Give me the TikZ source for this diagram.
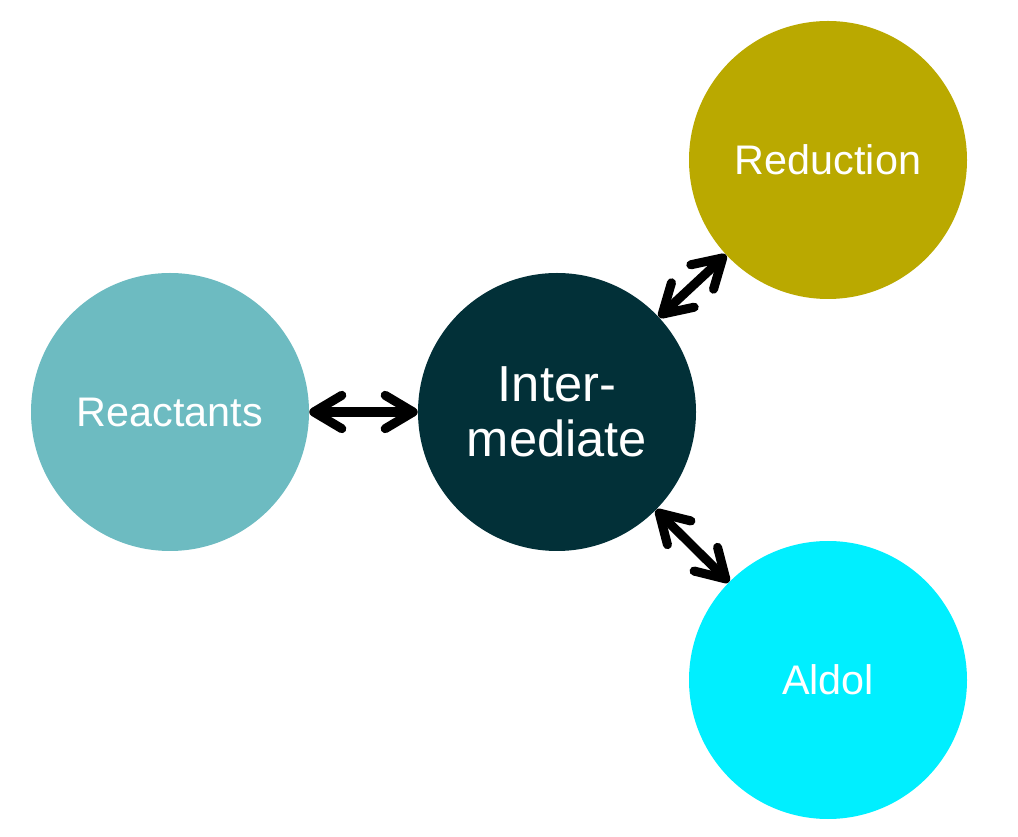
\documentclass[tikz,border=0pt]{standalone}
\usepackage{fontspec}
\setmainfont{Liberation Sans}
\usetikzlibrary{arrows.meta}
\definecolor{creact}{HTML}{6DBBC1}
\definecolor{cinter}{HTML}{023038}
\definecolor{cred}{HTML}{BAA900}
\definecolor{cald}{HTML}{00EFFF}
\begin{document}
\begin{tikzpicture}[x=0.75pt,y=-0.75pt,
  blob/.style={circle,inner sep=0pt,minimum size=208.5pt,text=white,font=\fontsize{31}{36}\selectfont,align=center},
  link/.style={line width=6.8pt,line cap=round,{Straight Barb[length=21pt,width=25pt,round]}-{Straight Barb[length=21pt,width=25pt,round]}}]
\useasboundingbox (0,0) rectangle (1018,837);
\node[blob,fill=creact] (react) at (170,412) {Reactants};
\node[blob,fill=cinter,font=\fontsize{38}{41}\selectfont] (inter) at (557,412) {Inter-\\mediate};
\node[blob,fill=cred] (red) at (828,160) {Reduction};
\node[blob,fill=cald] (ald) at (828,680) {Aldol};
\draw[link] (react) -- (inter);
\draw[link] (inter) -- (red);
\draw[link] (inter) -- (ald);
\end{tikzpicture}
\end{document}
